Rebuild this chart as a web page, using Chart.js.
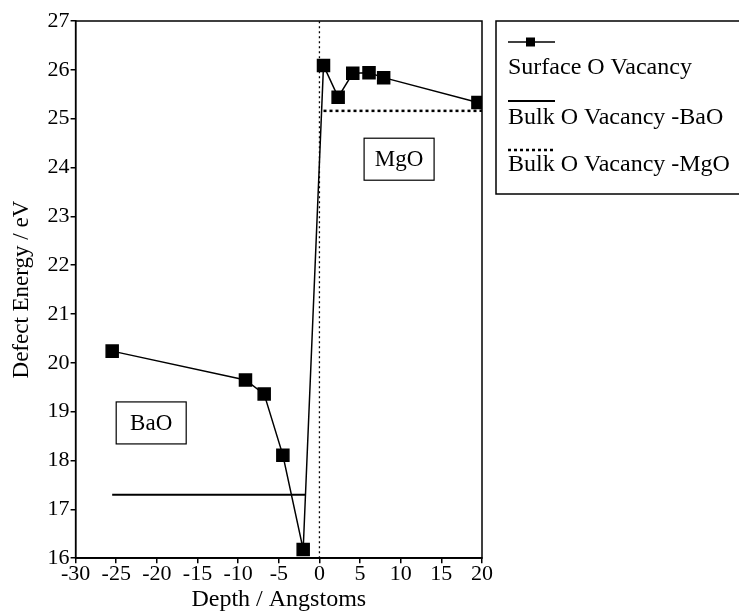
<!DOCTYPE html>
<html>
<head>
<meta charset="utf-8">
<script src="https://cdn.jsdelivr.net/npm/chart.js@4"></script>
<style>
  body { margin: 0; background: #fff; }
  #wrap { width: 739px; height: 614px; position: relative; }
</style>
</head>
<body>
<div id="wrap"><canvas id="defectChart" width="739" height="614"></canvas></div>
<script>
// data
const surfaceDepth  = [-25.5, -9.1, -6.8, -4.5, -2.0, 0.5, 2.3, 4.1, 6.1, 7.9, 19.5];
const surfaceEnergy = [20.24, 19.65, 19.36, 18.11, 16.18, 26.09, 25.44, 25.93, 25.94, 25.84, 25.33];

const bulkBaODepth  = [-25.5, -1.7];
const bulkBaOEnergy = [17.3, 17.3];

const bulkMgODepth  = [0.5, 20];
const bulkMgOEnergy = [25.16, 25.16];

// interface marker at depth 0
const interfaceDepth  = [0, 0];
const interfaceEnergy = [16, 27];

const seriesLabels = ["Surface O Vacancy", "Bulk O Vacancy -BaO", "Bulk O Vacancy -MgO"];

const xMin = -30, xMax = 20, xStep = 5;
const yMin = 16, yMax = 27, yStep = 1;

const regionLabels = ["BaO", "MgO"];
const regionDepth  = [-20.7, 9.8];
const regionEnergy = [18.77, 24.17];

const FONT = '"Liberation Serif", "DejaVu Serif", serif';

function pts(xs, ys) {
  return xs.map((x, i) => ({ x: x, y: ys[i] }));
}

// =========================
// frame, region boxes and side legend
// =========================
const decorPlugin = {
  id: "decor",
  beforeDatasetsDraw(chart) {
    const { ctx, chartArea: a, scales } = chart;
    ctx.save();
    ctx.strokeStyle = "#000";
    ctx.lineWidth = 1.5;
    ctx.strokeRect(a.left, a.top, a.right - a.left, a.bottom - a.top);

    // region label boxes
    ctx.font = "23px " + FONT;
    ctx.fillStyle = "#000";
    ctx.textAlign = "center";
    ctx.textBaseline = "middle";
    ctx.lineWidth = 1.2;
    regionLabels.forEach((t, i) => {
      const cx = scales.x.getPixelForValue(regionDepth[i]);
      const cy = scales.y.getPixelForValue(regionEnergy[i]);
      ctx.strokeRect(cx - 35, cy - 21, 70, 42);
      ctx.fillText(t, cx, cy + 1);
    });
    ctx.restore();
  },
  afterDraw(chart) {
    const { ctx } = chart;
    const ds = chart.data.datasets;
    ctx.save();
    ctx.strokeStyle = "#000";
    ctx.fillStyle = "#000";
    ctx.lineWidth = 1.5;
    ctx.strokeRect(496, 21, 270, 173);

    const sampleY = [42, 101, 150];
    const textY = [68, 118, 165];
    ctx.font = "24px " + FONT;
    ctx.textAlign = "left";
    ctx.textBaseline = "middle";

    for (let i = 0; i < 3; i++) {
      const d = ds[i];
      ctx.beginPath();
      ctx.lineWidth = d.borderWidth;
      ctx.setLineDash(d.borderDash || []);
      ctx.moveTo(508, sampleY[i]);
      ctx.lineTo(555, sampleY[i]);
      ctx.stroke();
      ctx.setLineDash([]);
      if (d.pointRadius > 0) {
        ctx.fillRect(526, sampleY[i] - 4.5, 9, 9);
      }
      ctx.fillText(d.label, 508, textY[i]);
    }
    ctx.restore();
  }
};

new Chart(document.getElementById("defectChart"), {
  type: "scatter",
  data: {
    datasets: [
      {
        label: seriesLabels[0],
        data: pts(surfaceDepth, surfaceEnergy),
        showLine: true,
        borderColor: "#000",
        backgroundColor: "#000",
        borderWidth: 1.5,
        pointStyle: "rect",
        pointRadius: 8.5,
        tension: 0
      },
      {
        label: seriesLabels[1],
        data: pts(bulkBaODepth, bulkBaOEnergy),
        showLine: true,
        borderColor: "#000",
        borderWidth: 2,
        pointRadius: 0
      },
      {
        label: seriesLabels[2],
        data: pts(bulkMgODepth, bulkMgOEnergy),
        showLine: true,
        borderColor: "#000",
        borderWidth: 2.5,
        borderDash: [3, 3],
        pointRadius: 0
      },
      {
        label: "interface",
        data: pts(interfaceDepth, interfaceEnergy),
        showLine: true,
        borderColor: "#000",
        borderWidth: 1.3,
        borderDash: [2, 3],
        pointRadius: 0
      }
    ]
  },
  options: {
    responsive: false,
    animation: false,
    devicePixelRatio: 1,
    layout: { padding: { top: 21, right: 257, left: 4, bottom: 0 } },
    plugins: {
      legend: { display: false },
      tooltip: { enabled: false }
    },
    scales: {
      x: {
        type: "linear",
        min: xMin,
        max: xMax,
        ticks: {
          stepSize: xStep,
          color: "#000",
          padding: 0,
          maxRotation: 0,
          font: { family: FONT, size: 22, lineHeight: 1 }
        },
        grid: { drawOnChartArea: false, tickLength: 5, color: "#000", lineWidth: 1.5 },
        border: { display: true, color: "#000", width: 1.5 },
        title: {
          display: true,
          text: "Depth / Angstoms",
          color: "#000",
          padding: { top: 0, bottom: 0 },
          font: { family: FONT, size: 24 }
        }
      },
      y: {
        min: yMin,
        max: yMax,
        ticks: {
          stepSize: yStep,
          color: "#000",
          padding: 1,
          font: { family: FONT, size: 22 }
        },
        grid: { drawOnChartArea: false, tickLength: 5, color: "#000", lineWidth: 1.5 },
        border: { display: true, color: "#000", width: 1.5 },
        title: {
          display: true,
          text: "Defect Energy / eV",
          color: "#000",
          padding: { top: 4, bottom: 11 },
          font: { family: FONT, size: 23 }
        }
      }
    }
  },
  plugins: [decorPlugin]
});
</script>
</body>
</html>
